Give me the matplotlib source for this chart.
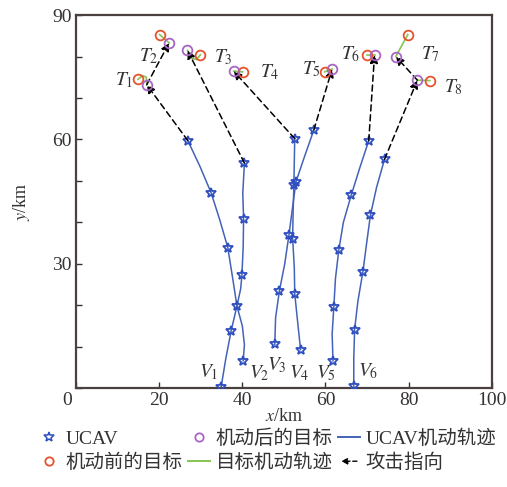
import numpy as np
import matplotlib
matplotlib.use("Agg")
from matplotlib import pyplot as plt
from matplotlib.lines import Line2D
from matplotlib.patches import FancyArrowPatch
from matplotlib.legend_handler import HandlerBase

plt.rcParams['font.family'] = ['Liberation Serif', 'Noto Sans CJK SC']
plt.rcParams['mathtext.fontset'] = 'stix'

# UCAV trajectories (km), star marks every few points
v1_x = [34.9, 36.0, 37.3, 38.7, 39.6, 39.9, 40.2, 40.3, 40.1, 40.5]
v1_y = [0.3, 7.0, 13.8, 19.8, 24.0, 27.3, 34.0, 40.9, 47.0, 54.3]
v1_stars = [0, 2, 5, 7, 9]
v2_x = [40.2, 40.5, 40.0, 38.7, 37.6, 36.5, 34.6, 32.5, 29.8, 26.9]
v2_y = [6.6, 10.5, 15.0, 19.8, 27.0, 33.9, 40.5, 47.1, 53.5, 59.7]
v2_stars = [0, 3, 5, 7, 9]
v3_x = [47.8, 48.0, 48.9, 50.2, 51.2, 52.0, 52.9, 55.0, 57.2]
v3_y = [10.6, 17.0, 23.4, 30.0, 36.9, 43.0, 49.8, 56.0, 62.3]
v4_x = [54.0, 53.3, 52.6, 52.5, 52.1, 52.2, 52.4, 52.5, 52.6]
v4_y = [9.3, 16.0, 22.8, 29.0, 36.1, 42.0, 49.0, 55.0, 60.2]
v5_x = [61.8, 61.6, 62.0, 62.4, 63.2, 64.3, 66.2, 68.2, 70.4]
v5_y = [6.6, 13.0, 19.6, 26.5, 33.3, 40.0, 46.6, 53.0, 59.7]
v6_x = [66.8, 66.8, 67.0, 67.8, 69.0, 69.9, 70.8, 72.3, 74.2]
v6_y = [0.5, 7.0, 14.1, 21.0, 28.1, 35.0, 41.7, 48.5, 55.2]
v_odd_stars = [0, 2, 4, 6, 8]

v_labels = ['$V_1$', '$V_2$', '$V_3$', '$V_4$', '$V_5$', '$V_6$']
v_lab_x = [32.0, 44.0, 48.3, 53.7, 60.0, 70.2]
v_lab_y = [3.8, 3.5, 5.5, 3.5, 3.5, 4.0]

# targets before / after maneuver
tb_x = [14.9, 20.1, 29.9, 40.1, 59.8, 69.9, 79.8, 85.1]
tb_y = [74.5, 85.3, 80.4, 76.3, 76.3, 80.4, 85.3, 74.2]
ta_x = [17.0, 22.4, 26.8, 37.9, 61.6, 71.8, 76.9, 82.1]
ta_y = [73.2, 83.3, 81.5, 76.5, 77.0, 80.4, 80.0, 74.3]
t_labels = ['$T_1$', '$T_2$', '$T_3$', '$T_4$', '$T_5$', '$T_6$', '$T_7$', '$T_8$']
t_lab_x = [11.6, 17.5, 35.4, 46.6, 56.6, 66.0, 85.2, 90.8]
t_lab_y = [74.2, 80.2, 79.8, 76.2, 76.9, 80.6, 80.6, 72.5]

# curved target tracks for T1, T3
g1_x = [14.9, 16.0, 16.9, 17.0]
g1_y = [74.5, 75.4, 75.0, 73.2]
g3_x = [29.9, 29.0, 27.8, 26.8]
g3_y = [80.4, 79.3, 79.6, 81.5]

# attack pointers: start -> end
atk_from = [(26.9, 59.7), (17.0, 73.2), (40.5, 54.3), (52.6, 60.2),
            (57.2, 62.3), (70.4, 59.7), (74.2, 55.2), (82.1, 74.3)]
atk_to = [(17.0, 73.2), (22.4, 83.3), (26.8, 81.5), (37.9, 76.5),
          (61.6, 77.0), (71.8, 80.4), (82.1, 74.3), (76.9, 80.0)]

blue = '#4463b8'
star_c = '#2f4fc0'
red = '#e5532d'
purple = '#a865c4'
green = '#86c453'
txt = '#333333'


class ArrowHandler(HandlerBase):
    def create_artists(self, legend, orig, xd, yd, w, h, fs, trans):
        a = FancyArrowPatch((xd + w, yd + h / 2), (xd, yd + h / 2), arrowstyle='-|>',
                            mutation_scale=9, ls=(0, (3, 2)), color='k', lw=1.0,
                            transform=trans)
        return [a]


fig = plt.figure(figsize=(5.07, 4.87), dpi=100)
ax = fig.add_axes([0.150, 0.203, 0.820, 0.766])

paths = [(v1_x, v1_y, v1_stars), (v2_x, v2_y, v2_stars), (v3_x, v3_y, v_odd_stars),
         (v4_x, v4_y, v_odd_stars), (v5_x, v5_y, v_odd_stars), (v6_x, v6_y, v_odd_stars)]
for px, py, st in paths:
    ax.plot(px, py, color=blue, lw=1.1, zorder=2)
    ax.plot(np.array(px)[st], np.array(py)[st], ls='none', marker='*', ms=7.5,
            mfc='none', mec=star_c, mew=1.3, zorder=3)

for (x0, y0), (x1, y1) in zip(atk_from, atk_to):
    ax.annotate('', xy=(x1, y1), xytext=(x0, y0),
                arrowprops=dict(arrowstyle='-|>', ls=(0, (4, 2.5)), color='k', lw=1.1,
                                mutation_scale=12, shrinkA=0, shrinkB=0), zorder=4)

# target tracks
ax.plot(g1_x, g1_y, color=green, lw=1.2, zorder=2)
ax.plot(g3_x, g3_y, color=green, lw=1.2, zorder=2)
for i in [1, 3, 4, 5, 6, 7]:
    ax.plot([tb_x[i], ta_x[i]], [tb_y[i], ta_y[i]], color=green, lw=1.2, zorder=2)

ax.plot(tb_x, tb_y, ls='none', marker='o', ms=7, mfc='none', mec=red, mew=1.3, zorder=5)
ax.plot(ta_x, ta_y, ls='none', marker='o', ms=7, mfc='none', mec=purple, mew=1.3, zorder=5)

for s, x, y in zip(t_labels, t_lab_x, t_lab_y):
    ax.text(x, y, s, fontsize=14, ha='center', va='center', color=txt)
for s, x, y in zip(v_labels, v_lab_x, v_lab_y):
    ax.text(x, y, s, fontsize=14, ha='center', va='center', color=txt)

ax.set_xlim(0, 100)
ax.set_ylim(0, 90)
ax.set_xticks([0, 20, 40, 60, 80, 100])
ax.set_xticklabels(['', '20', '40', '60', '80', '100'])
ax.set_yticks([0, 30, 60, 90])
ax.set_yticklabels(['', '30', '60', '90'])
ax.set_yticks([10, 20, 40, 50, 70, 80], minor=True)
ax.tick_params(direction='in', labelsize=14, length=4, width=1, colors=txt,
               labelcolor=txt, pad=3)
ax.tick_params(which='minor', direction='in', length=4, width=1, colors=txt)
ax.text(-2.2, -3.0, '0', fontsize=14, ha='center', va='center', color=txt)
for sp in ax.spines.values():
    sp.set_color('#4a4040')
    sp.set_linewidth(1.6)

ax.set_xlabel('$x$/km', fontsize=13, labelpad=-1, color=txt)
ax.set_ylabel('$y$/km', fontsize=13, labelpad=15, color=txt)

h_star = Line2D([], [], ls='none', marker='*', ms=7, mfc='none', mec=star_c, mew=1.1)
h_red = Line2D([], [], ls='none', marker='o', ms=6, mfc='none', mec=red, mew=1.3)
h_purple = Line2D([], [], ls='none', marker='o', ms=6, mfc='none', mec=purple, mew=1.3)
h_green = Line2D([], [], color=green, lw=1.4)
h_blue = Line2D([], [], color=blue, lw=1.4)
h_arrow = Line2D([], [], color='k')
leg = fig.legend([h_star, h_red, h_purple, h_green, h_blue, h_arrow],
                 ['UCAV', '机动前的目标', '机动后的目标', '目标机动轨迹', 'UCAV机动轨迹', '攻击指向'],
                 ncol=3, loc='upper left', bbox_to_anchor=(0.06, 0.135), frameon=False,
                 fontsize=14, handlelength=1.1, handletextpad=0.3, columnspacing=0.3,
                 labelspacing=0.3, borderaxespad=0, handler_map={h_arrow: ArrowHandler()})
for t in leg.get_texts():
    t.set_color(txt)

fig.savefig('out.png', dpi=100)
